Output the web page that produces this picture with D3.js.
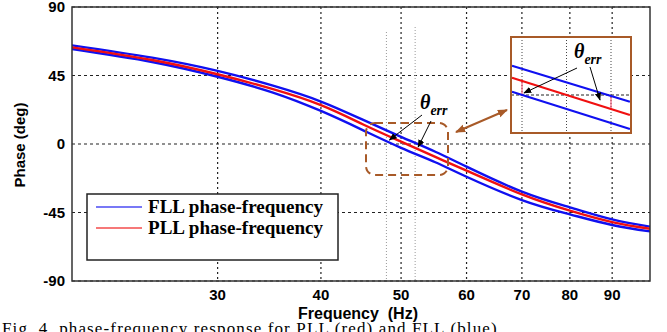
<!DOCTYPE html>
<html>
<head>
<meta charset="utf-8">
<script src="https://cdn.jsdelivr.net/npm/d3@7"></script>
<style>
  body { margin: 0; background: #fff; }
  svg { font-family: "Liberation Sans", Arial, sans-serif; }
</style>
</head>
<body>
<div id="chart"></div>
<script>
// phase-frequency curves (deg)
var freqs    = [20, 25, 30, 35, 40, 45, 50, 55, 60, 70, 80, 90, 100];
var fllUpper = [64.8, 56.7, 48.0, 38.3, 27.9, 15.8, 4.7, -5.1, -14.9, -31.3, -41.6, -49.5, -54.3];
var pll      = [63.5, 55.2, 45.8, 36.0, 25.5, 12.8, 1.5, -8.5, -17.5, -33.1, -43.8, -51.3, -55.7];
var fllLower = [62.4, 53.9, 44.2, 33.8, 21.7, 9.0, -2.5, -12.0, -21.5, -36.8, -46.2, -53.2, -57.4];

var xTicks = [30, 40, 50, 60, 70, 80, 90];
var yTicks = [-90, -45, 0, 45, 90];
var markFreqs = [48, 52];

// zoomed inset (around 48..52 Hz)
var insetFreq  = [47.55, 52.85];
var insetUpper = [7.3, -1.7];
var insetPll   = [4.3, -5.0];
var insetLower = [0.8, -8.5];
var insetErr   = [3.5, -3.5];

var legendLabels = ['FLL phase-frequency', 'PLL phase-frequency'];
var legendColors = ['#1010f0', '#f01010'];

var w = 667, h = 332,
  pLeft = 72, pRight = 650, pTop = 7, pBottom = 281,
  brown = '#a85a28',
  serif = '"Liberation Serif", "Times New Roman", serif';

var x = d3.scaleLog().domain([20, 100]).range([pLeft, pRight]),
  y = d3.scaleLinear().domain([-90, 90]).range([pBottom, pTop]);

var svg = d3.select('#chart').append('svg')
  .attr('width', w).attr('height', h);

var defs = svg.append('defs');
defs.append('clipPath').attr('id', 'plot')
  .append('rect').attr('x', pLeft).attr('y', pTop)
  .attr('width', pRight - pLeft).attr('height', pBottom - pTop);
function marker(id, color, size) {
  defs.append('marker').attr('id', id)
    .attr('viewBox', '0 0 10 10').attr('refX', 9).attr('refY', 5)
    .attr('markerWidth', size).attr('markerHeight', size)
    .attr('markerUnits', 'userSpaceOnUse')
    .attr('orient', 'auto-start-reverse')
    .append('path').attr('d', 'M0,1L10,5L0,9z').attr('fill', color);
}
marker('arrBlack', '#000', 8);
marker('arrBrown', brown, 10);

// grid
var grid = svg.append('g');
grid.selectAll('.hg').data(yTicks).enter().append('line')
  .attr('x1', pLeft).attr('x2', pRight)
  .attr('y1', function(d) { return y(d); }).attr('y2', function(d) { return y(d); })
  .attr('stroke', '#222').attr('stroke-width', 1.2).attr('stroke-dasharray', '3,3');
grid.selectAll('.vg').data(xTicks).enter().append('line')
  .attr('x1', function(d) { return x(d); }).attr('x2', function(d) { return x(d); })
  .attr('y1', pTop).attr('y2', pBottom)
  .attr('stroke', '#222').attr('stroke-width', 1.2).attr('stroke-dasharray', '2,3');

// 48 / 52 Hz markers
svg.selectAll('.mk').data(markFreqs).enter().append('line')
  .attr('x1', function(d) { return x(d); }).attr('x2', function(d) { return x(d); })
  .attr('y1', function(d, i) { return i ? 27 : 32; }).attr('y2', pBottom)
  .attr('stroke', '#999').attr('stroke-width', 1).attr('stroke-dasharray', '1,2');

// curves
var line = d3.line()
  .x(function(d) { return x(d[0]); })
  .y(function(d) { return y(d[1]); })
  .curve(d3.curveNatural);
var curves = svg.append('g').attr('clip-path', 'url(#plot)');
[[fllUpper, legendColors[0]], [fllLower, legendColors[0]], [pll, legendColors[1]]].forEach(function(s) {
  curves.append('path')
    .attr('d', line(freqs.map(function(f, i) { return [f, s[0][i]]; })))
    .attr('fill', 'none').attr('stroke', s[1]).attr('stroke-width', 2.4);
});

// frame
svg.append('rect').attr('x', pLeft).attr('y', pTop)
  .attr('width', pRight - pLeft).attr('height', pBottom - pTop)
  .attr('fill', 'none').attr('stroke', '#333').attr('stroke-width', 1.5);

// tick labels
svg.selectAll('.yl').data(yTicks).enter().append('text')
  .attr('x', 65).attr('y', function(d) { return y(d) + 5; })
  .attr('text-anchor', 'end').attr('font-size', 15).attr('font-weight', 'bold')
  .text(function(d) { return d; });
svg.selectAll('.xl').data(xTicks).enter().append('text')
  .attr('x', function(d) { return x(d); }).attr('y', 300)
  .attr('text-anchor', 'middle').attr('font-size', 15).attr('font-weight', 'bold')
  .text(function(d) { return d; });

svg.append('text').attr('x', 358).attr('y', 319)
  .attr('text-anchor', 'middle').attr('font-size', 16).attr('font-weight', 'bold')
  .style('white-space', 'pre').text('Frequency  (Hz)');
svg.append('text').attr('transform', 'translate(25,145) rotate(-90)')
  .attr('text-anchor', 'middle').attr('font-size', 15).attr('font-weight', 'bold')
  .text('Phase (deg)');

// dashed highlight region
svg.append('rect').attr('x', 366).attr('y', 123).attr('width', 82).attr('height', 52)
  .attr('rx', 9).attr('fill', 'none').attr('stroke', brown)
  .attr('stroke-width', 2).attr('stroke-dasharray', '8,5');

// theta_err label
function thetaErr(px, py) {
  var t = svg.append('text').attr('x', px).attr('y', py)
    .style('font-family', serif)
    .attr('font-style', 'italic').attr('font-weight', 'bold');
  t.append('tspan').attr('font-size', 20).text('θ');
  t.append('tspan').attr('font-size', 14).attr('dy', 6).text('err');
}
thetaErr(420, 109);
svg.append('line').attr('x1', 422).attr('y1', 115).attr('x2', x(48) + 3).attr('y2', 140)
  .attr('stroke', '#000').attr('stroke-width', 1).attr('marker-end', 'url(#arrBlack)');
svg.append('line').attr('x1', 431).attr('y1', 121).attr('x2', x(52) + 3).attr('y2', 147)
  .attr('stroke', '#000').attr('stroke-width', 1).attr('marker-end', 'url(#arrBlack)');

// double-headed brown arrow to inset
svg.append('line').attr('x1', 456).attr('y1', 132).attr('x2', 507).attr('y2', 110)
  .attr('stroke', brown).attr('stroke-width', 2)
  .attr('marker-start', 'url(#arrBrown)').attr('marker-end', 'url(#arrBrown)');

// inset
var ix = d3.scaleLinear().domain([48, 52]).range([522, 611]),
  iy = d3.scaleLinear().domain([0, 5]).range([95, 75]);
var inset = svg.append('g');
inset.append('rect').attr('x', 511).attr('y', 37).attr('width', 120).attr('height', 96)
  .attr('fill', '#fff');
inset.selectAll('.iv').data([48, 50, 52]).enter().append('line')
  .attr('x1', function(d) { return ix(d); }).attr('x2', function(d) { return ix(d); })
  .attr('y1', 37).attr('y2', 133)
  .attr('stroke', '#444').attr('stroke-width', 1).attr('stroke-dasharray', '1,2');
inset.append('line').attr('x1', 511).attr('x2', 631).attr('y1', iy(0)).attr('y2', iy(0))
  .attr('stroke', '#222').attr('stroke-width', 1).attr('stroke-dasharray', '3,2');
inset.selectAll('.ie').data(markFreqs).enter().append('line')
  .attr('x1', function(d) { return ix(d); }).attr('x2', function(d) { return ix(d); })
  .attr('y1', iy(0)).attr('y2', function(d, i) { return iy(insetErr[i]); })
  .attr('stroke', '#f04060').attr('stroke-width', 1);
var iline = d3.line()
  .x(function(d) { return ix(d[0]); })
  .y(function(d) { return iy(d[1]); });
[[insetUpper, legendColors[0]], [insetLower, legendColors[0]], [insetPll, legendColors[1]]].forEach(function(s) {
  inset.append('path')
    .attr('d', iline(insetFreq.map(function(f, i) { return [f, s[0][i]]; })))
    .attr('fill', 'none').attr('stroke', s[1]).attr('stroke-width', 2.2);
});
inset.append('rect').attr('x', 511).attr('y', 37).attr('width', 120).attr('height', 96)
  .attr('fill', 'none').attr('stroke', brown).attr('stroke-width', 2);
thetaErr(574, 58);
svg.append('line').attr('x1', 577).attr('y1', 68).attr('x2', ix(48) + 2).attr('y2', 93)
  .attr('stroke', '#000').attr('stroke-width', 1).attr('marker-end', 'url(#arrBlack)');
svg.append('line').attr('x1', 590).attr('y1', 67).attr('x2', 600).attr('y2', 100)
  .attr('stroke', '#000').attr('stroke-width', 1).attr('marker-end', 'url(#arrBlack)');

// legend
var lg = svg.append('g');
lg.append('rect').attr('x', 87).attr('y', 194).attr('width', 251).attr('height', 66)
  .attr('fill', '#fff').attr('stroke', '#222').attr('stroke-width', 1.5);
legendLabels.forEach(function(lab, i) {
  var yy = 207 + i * 21;
  lg.append('line').attr('x1', 96).attr('x2', 142).attr('y1', yy).attr('y2', yy)
    .attr('stroke', legendColors[i]).attr('stroke-width', 1.5).attr('opacity', 0.75);
  lg.append('text').attr('x', 148).attr('y', yy + 6)
    .style('font-family', serif)
    .attr('font-weight', 'bold').attr('font-size', 19)
    .attr('textLength', 175).attr('lengthAdjust', 'spacingAndGlyphs').text(lab);
});

// caption (cut off by the page edge)
svg.append('text').attr('x', 2).attr('y', 334)
  .style('font-family', serif)
  .attr('font-size', 17)
  .attr('textLength', 500).attr('lengthAdjust', 'spacing')
  .text('Fig. 4. phase-frequency response for PLL (red) and FLL (blue).');
</script>
</body>
</html>
